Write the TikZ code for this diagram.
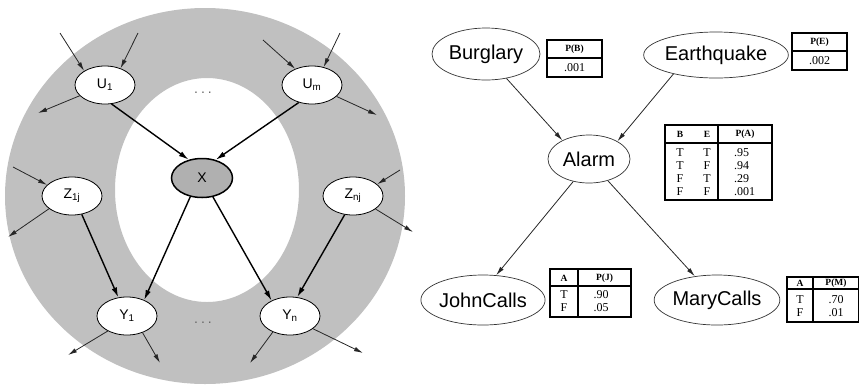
\documentclass[tikz,border=0pt]{standalone}
\usepackage{fontspec}
\setmainfont{Liberation Sans}
\newfontfamily\tabfont{Liberation Serif}
\usepackage{tikz}
\usetikzlibrary{positioning}
\usetikzlibrary{arrows.meta,shapes.geometric}
\definecolor{ringgray}{RGB}{192,192,192}
\definecolor{xgray}{RGB}{176,176,176}

\begin{document}
\begin{tikzpicture}[x=1pt,y=-1pt,
    thin arrow/.style={-{Latex[length=9pt,width=4.5pt]}, line width=0.8pt, black!85},
    thick arrow/.style={-{Latex[length=10pt,width=5.5pt]}, line width=1.4pt},
    cpt/.style={draw, line width=1.1pt},
    head/.style={inner sep=0pt, font=\tabfont\bfseries\fontsize{9.5}{10}\selectfont},
    cell/.style={inner sep=0pt, align=center, font=\tabfont\fontsize{12}{13}\selectfont}]
    \useasboundingbox (0,0) rectangle (859,384);
    %Ring
    \fill[ringgray, even odd rule] (205,196) ellipse [x radius=200pt, y radius=188pt]
        (207,190) ellipse [x radius=92pt, y radius=112pt];
    \begin{scope}[every node/.style={shape=ellipse, draw, fill=white, line width=0.8pt,
            minimum width=60pt, minimum height=38pt, inner sep=0pt, font=\fontsize{14}{14}\selectfont}]
        \node (u1) at (105,85) {U\textsubscript{1}};
        \node (um) at (312,85) {U\textsubscript{m}};
        \node (z1j) at (72,196) {Z\textsubscript{1j}};
        \node (znj) at (353,196) {Z\textsubscript{nj}};
        \node (y1) at (127,316) {Y\textsubscript{1}};
        \node (yn) at (290,316) {Y\textsubscript{n}};
        \node (x)[fill=xgray, line width=1.5pt, minimum width=61pt, minimum height=39pt] at (202,178) {X};
    \end{scope}
    \node[black!60, font=\fontsize{14}{14}\selectfont] (dotsup) at (203,93) {.\hspace{3pt}.\hspace{3pt}.};
    \node[black!60, font=\fontsize{14}{14}\selectfont] (dotsdown) at (203,323) {.\hspace{3pt}.\hspace{3pt}.};
    % free ends
    \coordinate (u1in1) at (60,33);
    \coordinate (u1in2) at (138,33);
    \coordinate (u1out) at (38,113);
    \coordinate (umin1) at (263,40);
    \coordinate (umin2) at (340,33);
    \coordinate (umout) at (377,115);
    \coordinate (z1jin) at (13,167);
    \coordinate (z1jout) at (8,237);
    \coordinate (znjin) at (400,170);
    \coordinate (znjout) at (413,232);
    \coordinate (y1out1) at (68,355);
    \coordinate (y1out2) at (160,363);
    \coordinate (ynout1) at (250,363);
    \coordinate (ynout2) at (363,353);
    %Lines
    \draw[thin arrow] (u1in1) -- (u1.146);
    \draw[thin arrow] (u1in2) -- (u1.47);
    \draw[thin arrow] (u1.203) -- (u1out);
    \draw[thin arrow] (umin1) -- (um.136);
    \draw[thin arrow] (umin2) -- (um.57);
    \draw[thin arrow] (um.335) -- (umout);
    \draw[thin arrow] (z1jin) -- (z1j.156);
    \draw[thin arrow] (z1j.209) -- (z1jout);
    \draw[thin arrow] (znjin) -- (znj.26);
    \draw[thin arrow] (znj.330) -- (znjout);
    \draw[thin arrow] (y1.218) -- (y1out1);
    \draw[thin arrow] (y1.313) -- (y1out2);
    \draw[thin arrow] (yn.223) -- (ynout1);
    \draw[thin arrow] (yn.331) -- (ynout2);
    \draw[thick arrow] (u1.289) -- (x.126);
    \draw[thick arrow] (um.233) -- (x.53);
    \draw[thick arrow] (x.238) -- (y1.43);
    \draw[thick arrow] (x.300) -- (yn.140);
    \draw[thick arrow] (z1j.298) -- (y1.115);
    \draw[thick arrow] (znj.246) -- (yn.69);

    \begin{scope}[every node/.style={shape=ellipse, draw=black!80, line width=0.7pt,
            inner sep=0pt, font=\fontsize{20}{20}\selectfont}]
        \node (burglary)[minimum width=108pt, minimum height=52pt] at (486,54) {Burglary};
        \node (earthquake)[minimum width=138pt, minimum height=46pt] at (716,55) {Earthquake};
        \node (alarm)[minimum width=82pt, minimum height=48pt] at (589,159) {Alarm};
        \node (johncalls)[minimum width=123pt, minimum height=50pt] at (483,300) {JohnCalls};
        \node (marycalls)[minimum width=125pt, minimum height=50pt] at (717,300) {MaryCalls};
    \end{scope}
    %Lines
    \draw[thin arrow] (burglary.310) -- (alarm.145);
    \draw[thin arrow] (earthquake.204) -- (alarm.32);
    \draw[thin arrow] (alarm.235) -- (johncalls.62);
    \draw[thin arrow] (alarm.311) -- (marycalls.133);

    %Tables
    \draw[cpt] (547,40) rectangle (602,77) (547,58) -- (602,58);
    \node[head] (pbhead) at (574.5,49.5) {P(B)};
    \node[cell] (pbval) at (574.5,68) {.001};

    \draw[cpt] (792,33) rectangle (847,70) (792,51) -- (847,51);
    \node[head] (pehead) at (819.5,42.5) {P(E)};
    \node[cell] (peval) at (819.5,61) {.002};

    \draw[cpt] (665,125) rectangle (772,200) (665,143) -- (772,143) (718,125) -- (718,200);
    \node[head] (pahb) at (680,134.5) {B};
    \node[head] (pahe) at (707,134.5) {E};
    \node[head] (pahp) at (745,134.5) {P(A)};
    \node[cell] (pab) at (680,172) {T\\T\\F\\F};
    \node[cell] (pae) at (707,172) {T\\F\\T\\F};
    \node[cell, align=left, anchor=west] (paval) at (734,172) {.95\\.94\\.29\\.001};

    \draw[cpt] (550,269) rectangle (631,317) (550,286) -- (631,286) (578,269) -- (578,317);
    \node[head] (pjha) at (564,278) {A};
    \node[head] (pjhp) at (604.5,278) {P(J)};
    \node[cell] (pja) at (564,301.5) {T\\F};
    \node[cell] (pjval) at (601,301.5) {.90\\.05};

    \draw[cpt] (787,277) rectangle (858.4,322) (787,289) -- (858.4,289) (813,277) -- (813,322);
    \node[head] (pmha) at (800,283.5) {A};
    \node[head] (pmhp) at (836,283.5) {P(M)};
    \node[cell] (pma) at (800,306.5) {T\\F};
    \node[cell] (pmval) at (836,306.5) {.70\\.01};
\end{tikzpicture}
\end{document}
